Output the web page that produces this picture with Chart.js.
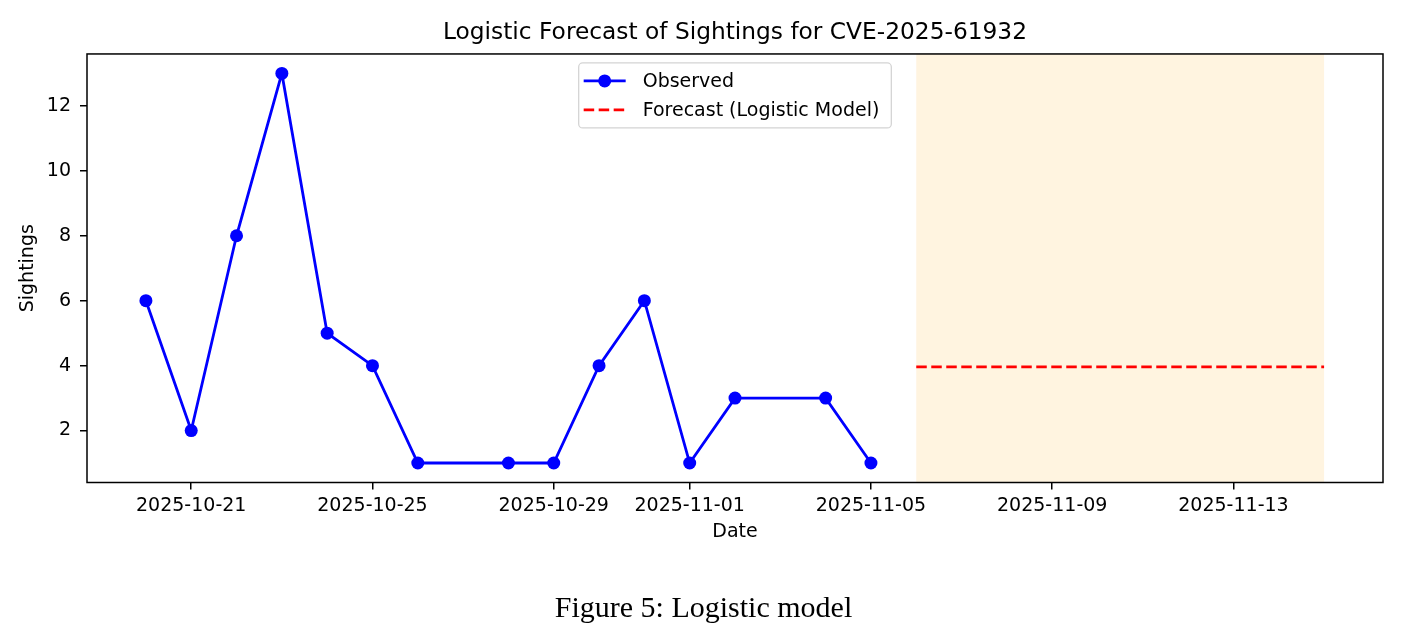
<!DOCTYPE html>
<html><head><meta charset="utf-8">
<script src="https://cdn.jsdelivr.net/npm/chart.js@4.4.1/dist/chart.umd.min.js"></script>
<style>
html,body{margin:0;padding:0;background:#fff;}
#wrap{position:relative;width:1407px;height:641px;}
#caption{position:absolute;left:0;width:1407px;top:589px;text-align:center;font-family:"Liberation Serif","Times New Roman",serif;font-size:30px;color:#000;line-height:36px;}
</style></head><body>
<div id="wrap"><canvas id="c" width="1407" height="641"></canvas><div id="caption">Figure 5: Logistic model</div></div>
<script>
// ---- data ----
const observedDates = ['2025-10-20','2025-10-21','2025-10-22','2025-10-23','2025-10-24','2025-10-25','2025-10-26','2025-10-28','2025-10-29','2025-10-30','2025-10-31','2025-11-01','2025-11-02','2025-11-04','2025-11-05'];
const observedValues = [6,2,8,13,5,4,1,1,1,4,6,1,3,3,1];
const forecastDates = ['2025-11-06','2025-11-07','2025-11-08','2025-11-09','2025-11-10','2025-11-11','2025-11-12','2025-11-13','2025-11-14','2025-11-15'];
const forecastValues = [3.96,3.96,3.96,3.96,3.96,3.96,3.96,3.96,3.96,3.96];
const xTickLabels = ['2025-10-21','2025-10-25','2025-10-29','2025-11-01','2025-11-05','2025-11-09','2025-11-13'];
const yTickValues = [2,4,6,8,10,12];
const seriesLabels = ['Observed','Forecast (Logistic Model)'];

// ---- helpers ----
const dayNum = s => Date.parse(s + 'T00:00:00Z') / 86400000;
const dayStr = d => new Date(Math.round(d) * 86400000).toISOString().slice(0, 10);

const allDays = observedDates.concat(forecastDates).map(dayNum);
const xLo = Math.min(...allDays), xHi = Math.max(...allDays);
const xPad = 0.05 * (xHi - xLo);
const allVals = observedValues.concat(forecastValues);
const yLo = Math.min(...allVals), yHi = Math.max(...allVals);
const yPad = 0.05 * (yHi - yLo);

const FONT = '"DejaVu Sans", sans-serif';

const shadePlugin = {
  id: 'shade',
  beforeDatasetsDraw(chart) {
    const {ctx, chartArea, scales: {x}} = chart;
    const x0 = x.getPixelForValue(dayNum(forecastDates[0]));
    const x1 = x.getPixelForValue(dayNum(forecastDates[forecastDates.length - 1]));
    ctx.save();
    ctx.fillStyle = 'rgba(255,165,0,0.12)';
    ctx.fillRect(x0, chartArea.top, x1 - x0, chartArea.bottom - chartArea.top);
    ctx.restore();
  }
};

const framePlugin = {
  id: 'frame',
  afterDatasetsDraw(chart) {
    const {ctx, chartArea: a} = chart;
    ctx.save();
    ctx.strokeStyle = '#000';
    ctx.lineWidth = 1.5;
    ctx.strokeRect(a.left, a.top, a.right - a.left, a.bottom - a.top);
    ctx.restore();
  }
};

const legendPlugin = {
  id: 'innerLegend',
  afterDraw(chart) {
    const {ctx, chartArea: a} = chart;
    ctx.save();
    ctx.font = '19px ' + FONT;
    const tw = Math.max(...seriesLabels.map(t => ctx.measureText(t).width));
    const padL = 5, handle = 42, gap = 17, padR = 12;
    const w = padL + handle + gap + tw + padR;
    const h = 65;
    const cx = (a.left + a.right) / 2;
    const bx = cx - w / 2, by = a.top + 9;
    const r = 4;
    ctx.beginPath();
    ctx.moveTo(bx + r, by);
    ctx.arcTo(bx + w, by, bx + w, by + h, r);
    ctx.arcTo(bx + w, by + h, bx, by + h, r);
    ctx.arcTo(bx, by + h, bx, by, r);
    ctx.arcTo(bx, by, bx + w, by, r);
    ctx.closePath();
    ctx.fillStyle = 'rgba(255,255,255,0.8)';
    ctx.fill();
    ctx.strokeStyle = '#d4d4d4';
    ctx.lineWidth = 1.3;
    ctx.stroke();
    const ds = chart.data.datasets;
    const rows = [by + 18, by + 47];
    ds.forEach((d, i) => {
      const y = rows[i];
      const hx0 = bx + padL, hx1 = hx0 + handle;
      ctx.beginPath();
      ctx.strokeStyle = d.borderColor;
      ctx.lineWidth = d.borderWidth;
      ctx.setLineDash(d.borderDash || []);
      ctx.moveTo(hx0, y); ctx.lineTo(hx1, y);
      ctx.stroke();
      ctx.setLineDash([]);
      if (d.pointRadius > 0) {
        ctx.beginPath();
        ctx.fillStyle = d.pointBackgroundColor;
        ctx.arc((hx0 + hx1) / 2, y, d.pointRadius, 0, Math.PI * 2);
        ctx.fill();
      }
      ctx.fillStyle = '#000';
      ctx.textBaseline = 'middle';
      ctx.textAlign = 'left';
      ctx.fillText(d.label, hx1 + gap, y + 1);
    });
    ctx.restore();
  }
};

new Chart(document.getElementById('c'), {
  type: 'line',
  data: {
    datasets: [
      {
        label: seriesLabels[0],
        data: observedDates.map((d, i) => ({x: dayNum(d), y: observedValues[i]})),
        borderColor: '#0000ff',
        backgroundColor: '#0000ff',
        pointBackgroundColor: '#0000ff',
        pointBorderWidth: 0,
        pointRadius: 6.5,
        borderWidth: 2.8,
        tension: 0,
        fill: false
      },
      {
        label: seriesLabels[1],
        data: forecastDates.map((d, i) => ({x: dayNum(d), y: forecastValues[i]})),
        borderColor: '#ff0000',
        backgroundColor: '#ff0000',
        borderDash: [10.5, 4.5],
        borderWidth: 2.8,
        pointRadius: 0,
        tension: 0,
        fill: false
      }
    ]
  },
  options: {
    responsive: false,
    animation: false,
    devicePixelRatio: 1,
    layout: {padding: {left: 0, right: 24, top: 0, bottom: 0}},
    plugins: {
      legend: {display: false},
      tooltip: {enabled: false},
      title: {
        display: true,
        fullSize: false,
        text: 'Logistic Forecast of Sightings for CVE-2025-61932',
        color: '#000',
        font: {family: FONT, size: 23.3, weight: 'normal', lineHeight: 1.2},
        padding: {top: 19, bottom: 7}
      }
    },
    scales: {
      x: {
        type: 'linear',
        min: xLo - xPad,
        max: xHi + xPad,
        afterBuildTicks: s => { s.ticks = xTickLabels.map(t => ({value: dayNum(t)})); },
        afterFit: s => { s.height = 158.5; },
        ticks: {
          callback: v => dayStr(v),
          color: '#000',
          font: {family: FONT, size: 19},
          padding: 5,
          maxRotation: 0,
          autoSkip: false
        },
        grid: {display: true, drawOnChartArea: false, drawTicks: true, tickLength: 7, color: '#000', lineWidth: 1.5},
        border: {display: false},
        title: {display: true, text: 'Date', color: '#000', font: {family: FONT, size: 19}, padding: {top: 0, bottom: 97.6}}
      },
      y: {
        type: 'linear',
        min: yLo - yPad,
        max: yHi + yPad,
        afterBuildTicks: s => { s.ticks = yTickValues.map(v => ({value: v})); },
        afterFit: s => { s.width = 87; },
        ticks: {color: '#000', font: {family: FONT, size: 19}, padding: 9, callback: v => String(v)},
        grid: {display: true, drawOnChartArea: false, drawTicks: true, tickLength: 7, color: '#000', lineWidth: 1.5},
        border: {display: false},
        title: {display: true, text: 'Sightings', color: '#000', font: {family: FONT, size: 19}, padding: {top: 17, bottom: 0}}
      }
    }
  },
  plugins: [shadePlugin, framePlugin, legendPlugin]
});
</script>
</body></html>
